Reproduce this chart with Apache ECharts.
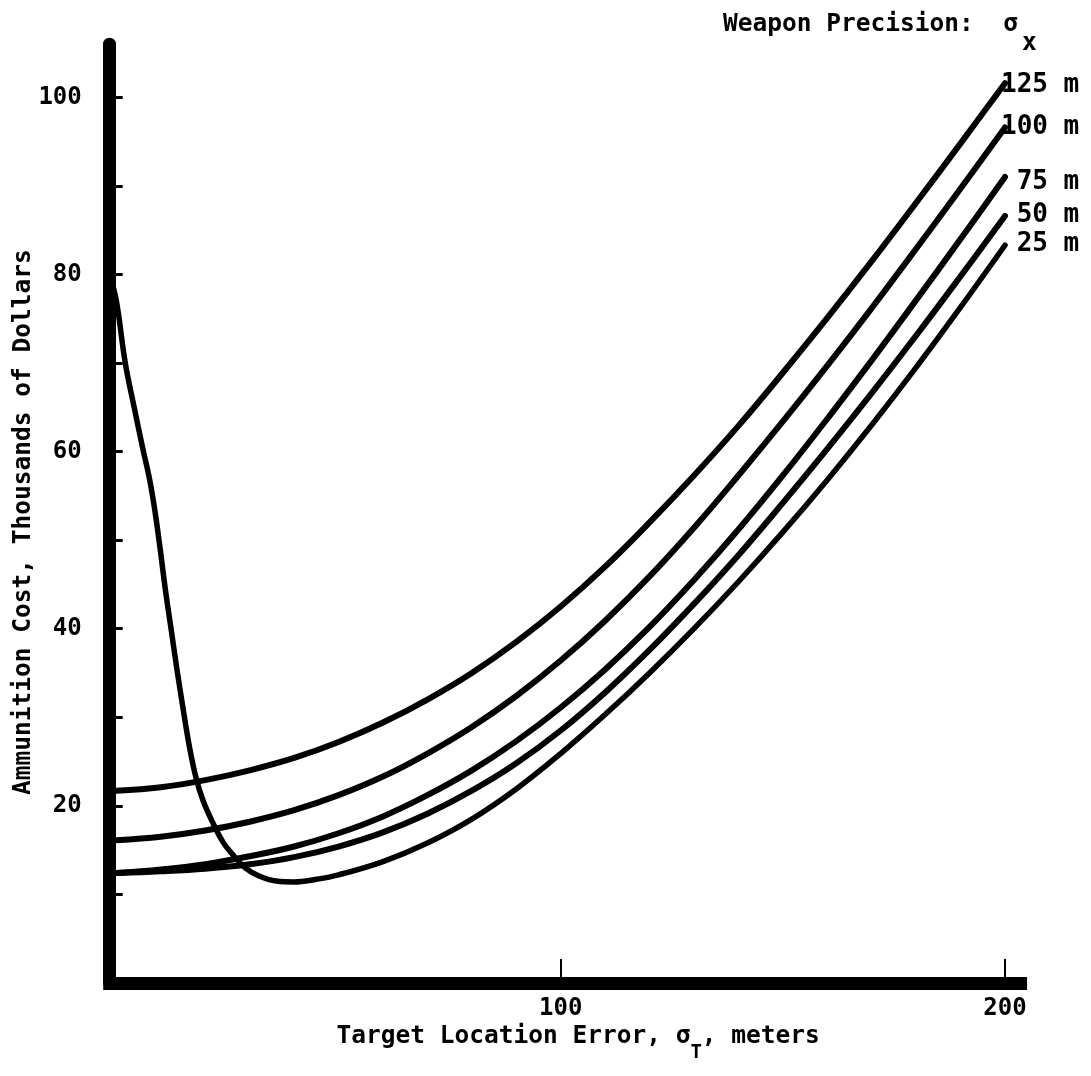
<!DOCTYPE html>
<html>
<head>
<meta charset="utf-8">
<script src="https://cdn.jsdelivr.net/npm/echarts@6/dist/echarts.min.js"></script>
<style>
html,body{margin:0;padding:0;background:#fff;}
#chart{width:1091px;height:1076px;}
</style>
</head>
<body>
<div id="chart"></div>
<script>
// ---- data ----
const tleX = [0,10,20,30,40,50,60,70,80,90,100,110,120,130,140,150,160,170,180,190,200];
const cost125 = [21.7,22.1,22.9,24.0,25.4,27.2,29.4,32.0,35.0,38.5,42.5,47.0,52.0,57.3,62.9,68.9,75.1,81.5,88.1,94.8,101.6];
const cost100 = [16.1,16.5,17.2,18.2,19.5,21.2,23.3,25.9,28.9,32.4,36.4,40.9,45.9,51.4,57.3,63.4,69.7,76.2,82.9,89.7,96.6];
const cost75  = [12.4,12.8,13.4,14.3,15.4,16.9,18.8,21.2,24.0,27.3,31.1,35.4,40.2,45.5,51.2,57.3,63.7,70.3,77.1,84.0,91.0];
const cost50  = [12.4,12.6,12.9,13.4,14.2,15.4,17.0,19.1,21.7,24.8,28.5,32.8,37.6,42.8,48.3,54.2,60.3,66.6,73.1,79.8,86.6];
const tle25   = [-1.5,0,2,4,6,7.5,8.7,9.8,11,12.3,13.6,15,16.5,18,19.5,21.5,24,26.5,29,32,36,40,45,50,60,70,80,90,100,110,120,130,140,150,160,170,180,190,200];
const cost25  = [80,77,70,65,60.2,56.8,53.2,49.2,44.5,40,35.5,31,26.5,23,20.6,18.3,15.9,14.3,13.0,12.1,11.5,11.4,11.7,12.2,13.7,15.8,18.5,21.9,25.9,30.3,35.0,40.0,45.3,50.9,56.8,63.0,69.5,76.3,83.3];
const precisionLabels = ['125 m','100 m','75 m','50 m','25 m'];
const yTickValues = [10,20,30,40,50,60,70,80,90,100];
const yLabelValues = [20,40,60,80,100];
const xTickValues = [100,200];

const FONT = 'DejaVu Sans Mono';
const pair = (xs, ys) => xs.map((x, i) => [x, ys[i]]);

const curves = [
  {data: pair(tleX, cost125), width: 6, off: [-4, 2]},
  {data: pair(tleX, cost100), width: 6, off: [-4, 0]},
  {data: pair(tleX, cost75),  width: 6, off: [-4, 5]},
  {data: pair(tleX, cost50),  width: 6, off: [-4, -1]},
  {data: pair(tle25, cost25), width: 5.5, off: [-4, -1]}
];

const chart = echarts.init(document.getElementById('chart'), null, {renderer: 'canvas'});

const option = {
  animation: false,
  backgroundColor: '#fff',
  title: {
    text: '{a|Weapon Precision:  σ}{b|x}',
    left: 723,
    top: 12,
    padding: 0,
    textStyle: {
      rich: {
        a: {fontFamily: FONT, fontSize: 24.5, fontWeight: 'bold', color: '#000', verticalAlign: 'top'},
        b: {fontFamily: FONT, fontSize: 24.5, fontWeight: 'bold', color: '#000', verticalAlign: 'top', padding: [19.5, 0, 0, 4]}
      }
    }
  },
  grid: {left: 109.73, right: 70.45, top: 44.2, bottom: 93.1, containLabel: false, outerBoundsMode: 'none'},
  xAxis: {
    type: 'value', min: -1.5, max: 203.5,
    axisLine: {onZero: false, lineStyle: {color: '#000', width: 13, cap: 'square'}},
    axisTick: {inside: true, length: 24, customValues: xTickValues, lineStyle: {color: '#000', width: 2}},
    axisLabel: {customValues: xTickValues, fontFamily: FONT, fontSize: 24, fontWeight: 'bold', color: '#000', margin: 14},
    splitLine: {show: false},
    name: '{a|Target Location Error, σ}{b|T}{a|, meters}',
    nameLocation: 'middle',
    nameGap: 41,
    nameMoveOverlap: false,
    nameTextStyle: {
      padding: [0, 0, 0, 26],
      rich: {
        a: {fontFamily: FONT, fontSize: 24.5, fontWeight: 'bold', color: '#000', verticalAlign: 'top'},
        b: {fontFamily: FONT, fontSize: 19, fontWeight: 'bold', color: '#000', verticalAlign: 'top', padding: [20, 0, 0, 0]}
      }
    }
  },
  yAxis: {
    type: 'value', min: 0, max: 106,
    axisLine: {onZero: false, lineStyle: {color: '#000', width: 13, cap: 'round'}},
    axisTick: {inside: true, length: 13, customValues: yTickValues, lineStyle: {color: '#000', width: 3}},
    axisLabel: {customValues: yLabelValues, fontFamily: FONT, fontSize: 24, fontWeight: 'bold', color: '#000', margin: 28},
    splitLine: {show: false},
    name: 'Ammunition Cost, Thousands of Dollars',
    nameLocation: 'middle',
    nameGap: 73.5,
    nameMoveOverlap: false,
    nameTextStyle: {fontFamily: FONT, fontSize: 24.5, fontWeight: 'bold', color: '#000', padding: [0, 17, 0, 0]}
  },
  series: curves.map((c, i) => ({
    type: 'line',
    name: precisionLabels[i],
    data: c.data,
    showSymbol: false,
    smooth: 0.4,
    silent: true,
    lineStyle: {color: '#000', width: c.width, cap: 'round', join: 'round'},
    endLabel: {
      show: true,
      formatter: precisionLabels[i].padStart(5, ' '),
      fontFamily: FONT, fontSize: 26, fontWeight: 'bold', color: '#000',
      distance: 0,
      offset: c.off
    }
  }))
};
chart.setOption(option);
</script>
</body>
</html>
